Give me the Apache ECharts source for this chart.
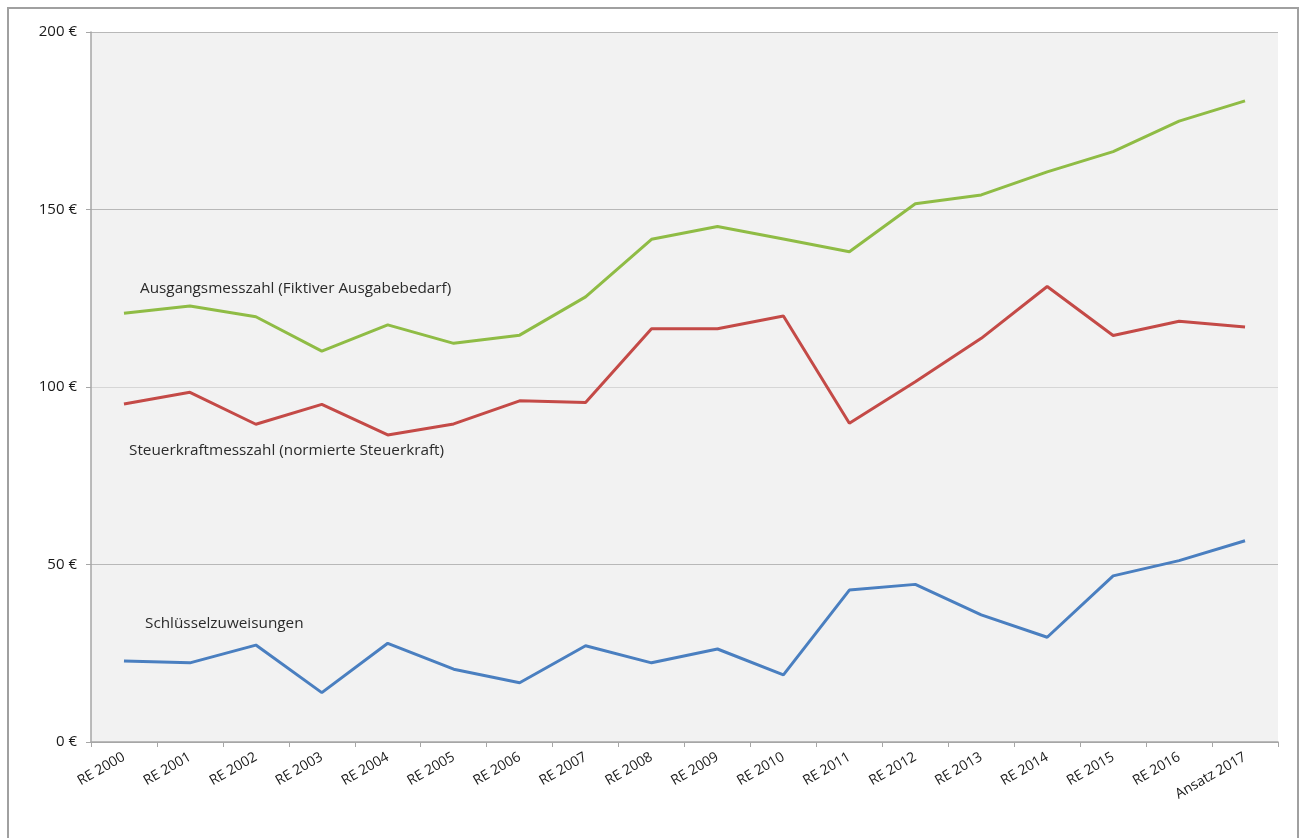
<!DOCTYPE html>
<html>
<head>
<meta charset="utf-8">
<script src="https://cdn.jsdelivr.net/npm/echarts@6/dist/echarts.min.js"></script>
<style>
  html, body { margin: 0; padding: 0; background: #ffffff; }
  #chart { width: 1304px; height: 838px; }
</style>
</head>
<body>
<div id="chart"></div>
<script>
// Finanzausgleich je Einwohner: Rechnungsergebnisse 2000–2016, Ansatz 2017
const categories = ['RE 2000', 'RE 2001', 'RE 2002', 'RE 2003', 'RE 2004', 'RE 2005', 'RE 2006', 'RE 2007', 'RE 2008',
  'RE 2009', 'RE 2010', 'RE 2011', 'RE 2012', 'RE 2013', 'RE 2014', 'RE 2015', 'RE 2016', 'Ansatz 2017'];

const ausgangsmesszahl = [120.8, 122.8, 119.8, 110.1, 117.5, 112.3, 114.6, 125.4, 141.6,
  145.2, 141.7, 138.1, 151.6, 154.1, 160.6, 166.3, 174.9, 180.6];

const steuerkraftmesszahl = [95.2, 98.5, 89.5, 95.1, 86.5, 89.6, 96.1, 95.6, 116.4,
  116.4, 120.0, 89.8, 101.5, 113.7, 128.3, 114.5, 118.5, 116.9];

const schluesselzuweisungen = [22.8, 22.3, 27.3, 13.9, 27.8, 20.5, 16.7, 27.1, 22.3,
  26.2, 18.9, 42.8, 44.4, 35.8, 29.5, 46.8, 51.1, 56.7];

const seriesNames = [
  'Ausgangsmesszahl (Fiktiver Ausgabebedarf)',
  'Steuerkraftmesszahl (normierte Steuerkraft)',
  'Schlüsselzuweisungen'
];

const yTicks = { min: 0, max: 200, interval: 50 };

const FONT = '"Open Sans", "DejaVu Sans", sans-serif';
const chart = echarts.init(document.getElementById('chart'), null, { renderer: 'canvas' });

function lineSeries(name, data, color) {
  return {
    name: name,
    type: 'line',
    data: data,
    symbol: 'none',
    smooth: false,
    lineStyle: { color: color, width: 3 },
    itemStyle: { color: color },
    z: 3
  };
}

chart.setOption({
  animation: false,
  backgroundColor: '#ffffff',
  grid: {
    left: 91, right: 26, top: 32, bottom: 96,
    show: true, backgroundColor: '#f2f2f2', borderWidth: 0
  },
  xAxis: {
    type: 'category',
    data: categories,
    boundaryGap: true,
    axisLine: { show: true, lineStyle: { color: '#a6a6a6', width: 1.5 } },
    axisTick: { show: true, length: 5, alignWithLabel: false, lineStyle: { color: '#a6a6a6' } },
    axisLabel: {
      rotate: 30, interval: 0, margin: 14,
      color: '#1a1a1a', fontSize: 14, fontFamily: FONT
    },
    splitLine: { show: false }
  },
  yAxis: {
    type: 'value',
    min: yTicks.min, max: yTicks.max, interval: yTicks.interval,
    axisLine: { show: true, lineStyle: { color: '#a6a6a6', width: 1.5 } },
    axisTick: { show: true, length: 5, inside: false, lineStyle: { color: '#a6a6a6' } },
    axisLabel: {
      formatter: '{value} €', margin: 14,
      color: '#1a1a1a', fontSize: 15, fontFamily: FONT
    },
    splitLine: {
      show: true,
      lineStyle: { color: ['#a6a6a6', '#b8b8b8', '#d6d6d6', '#b8b8b8', '#b8b8b8'], width: 1.2 }
    }
  },
  series: [
    lineSeries(seriesNames[0], ausgangsmesszahl, '#8fbc45'),
    lineSeries(seriesNames[1], steuerkraftmesszahl, '#c44a47'),
    lineSeries(seriesNames[2], schluesselzuweisungen, '#4a7fc0')
  ],
  graphic: [
    {
      type: 'rect', silent: true, z: 0,
      shape: { x: 8, y: 8, width: 1290, height: 845 },
      style: { fill: 'none', stroke: '#a0a0a0', lineWidth: 2 }
    },
    {
      type: 'text', left: 140, top: 281, z: 10,
      style: { text: seriesNames[0], fill: '#2b2b2b', font: '15.3px ' + FONT }
    },
    {
      type: 'text', left: 129, top: 443, z: 10,
      style: { text: seriesNames[1], fill: '#2b2b2b', font: '15.3px ' + FONT }
    },
    {
      type: 'text', left: 145, top: 616, z: 10,
      style: { text: seriesNames[2], fill: '#2b2b2b', font: '15.3px ' + FONT }
    }
  ]
});
</script>
</body>
</html>
